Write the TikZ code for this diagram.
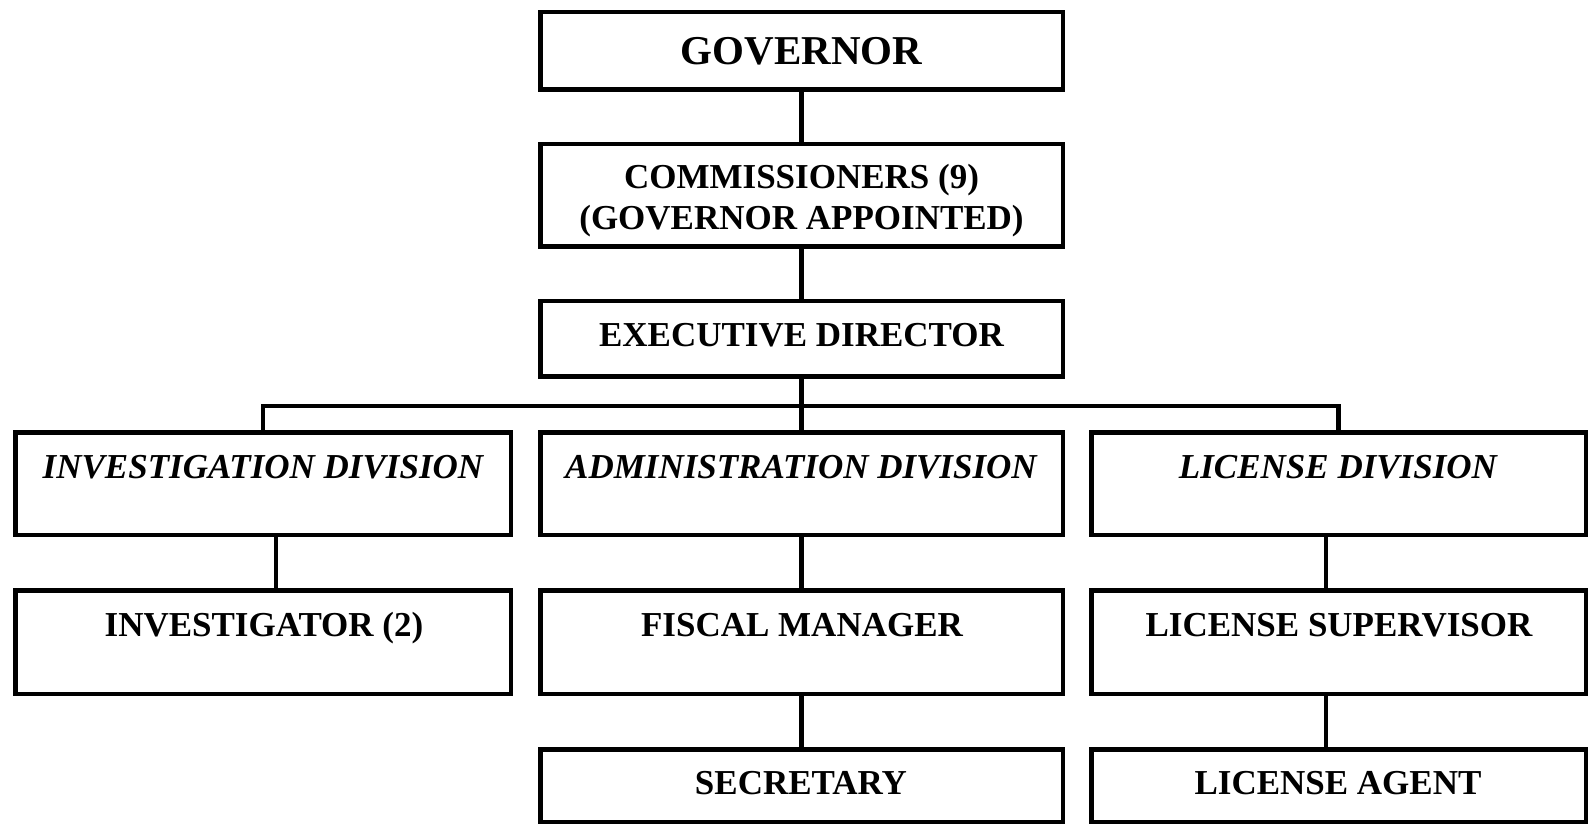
\documentclass[tikz,border=0pt]{standalone}
\usepackage{fontspec}
\setmainfont{Liberation Serif}
\begin{document}
\begin{tikzpicture}[x=1pt,y=-1pt,
  orgbox/.style={draw=black,line width=4.5pt,inner sep=0pt,fill=white},
  conn/.style={draw=black,line width=4.5pt},
  btxt/.style={inner sep=0pt,anchor=base,font=\fontsize{35}{41}\selectfont\bfseries},
  itxt/.style={inner sep=0pt,anchor=base,font=\fontsize{35}{41}\selectfont\bfseries\itshape}]
\useasboundingbox (0,0) rectangle (1591,826);
% boxes
\node[orgbox,minimum width=522.5pt,minimum height=77.5pt] (gov) at (801.5,51) {};
\node[orgbox,minimum width=522.5pt,minimum height=102.5pt] (com) at (801.5,195.5) {};
\node[orgbox,minimum width=522.5pt,minimum height=75.5pt] (exe) at (801.5,339) {};
\node[orgbox,minimum width=495.5pt,minimum height=102.5pt] (inv) at (263,483.5) {};
\node[orgbox,minimum width=522.5pt,minimum height=102.5pt] (adm) at (801.5,483.5) {};
\node[orgbox,minimum width=494.5pt,minimum height=102.5pt] (lic) at (1338.5,483.5) {};
\node[orgbox,minimum width=495.5pt,minimum height=103.5pt] (ivr) at (263,642) {};
\node[orgbox,minimum width=522.5pt,minimum height=103.5pt] (fis) at (801.5,642) {};
\node[orgbox,minimum width=494.5pt,minimum height=103.5pt] (sup) at (1338.5,642) {};
\node[orgbox,minimum width=522.5pt,minimum height=72.5pt] (sec) at (801.5,785.5) {};
\node[orgbox,minimum width=494.5pt,minimum height=72.5pt] (agt) at (1338.5,785.5) {};
% texts
\node[btxt,font=\fontsize{41}{46}\selectfont\bfseries] (tgov) at (801.5,65) {GOVERNOR};
\node[inner sep=0pt,align=center,font=\fontsize{35}{40.5}\selectfont\bfseries] (tcom) at (801.5,200.5) {COMMISSIONERS (9)\\(GOVERNOR APPOINTED)};
\node[btxt] (texe) at (801.5,347) {EXECUTIVE DIRECTOR};
\node[itxt] (tinv) at (263,478) {INVESTIGATION DIVISION};
\node[itxt] (tadm) at (801,478) {ADMINISTRATION DIVISION};
\node[itxt] (tlic) at (1338,478) {LICENSE DIVISION};
\node[btxt] (tivr) at (264,636) {INVESTIGATOR (2)};
\node[btxt] (tfis) at (802,636) {FISCAL MANAGER};
\node[btxt] (tsup) at (1339,636) {LICENSE SUPERVISOR};
\node[btxt] (tsec) at (801,794) {SECRETARY};
\node[btxt] (tagt) at (1338,794) {LICENSE AGENT};
% connectors
\coordinate (bus) at (801.5,406);
\draw[conn] (gov.south) -- (com.north);
\draw[conn] (com.south) -- (exe.north);
\draw[conn] (exe.south) -- (bus);
\draw[conn] (inv.north) |- (bus) -| (lic.north);
\draw[conn] (bus) -- (adm.north);
\draw[conn] ([xshift=13pt]inv.south) -- ([xshift=13pt]ivr.north);
\draw[conn] (adm.south) -- (fis.north);
\draw[conn] (fis.south) -- (sec.north);
\draw[conn] ([xshift=-12.5pt]lic.south) -- ([xshift=-12.5pt]sup.north);
\draw[conn] ([xshift=-12.5pt]sup.south) -- ([xshift=-12.5pt]agt.north);
\end{tikzpicture}
\end{document}
